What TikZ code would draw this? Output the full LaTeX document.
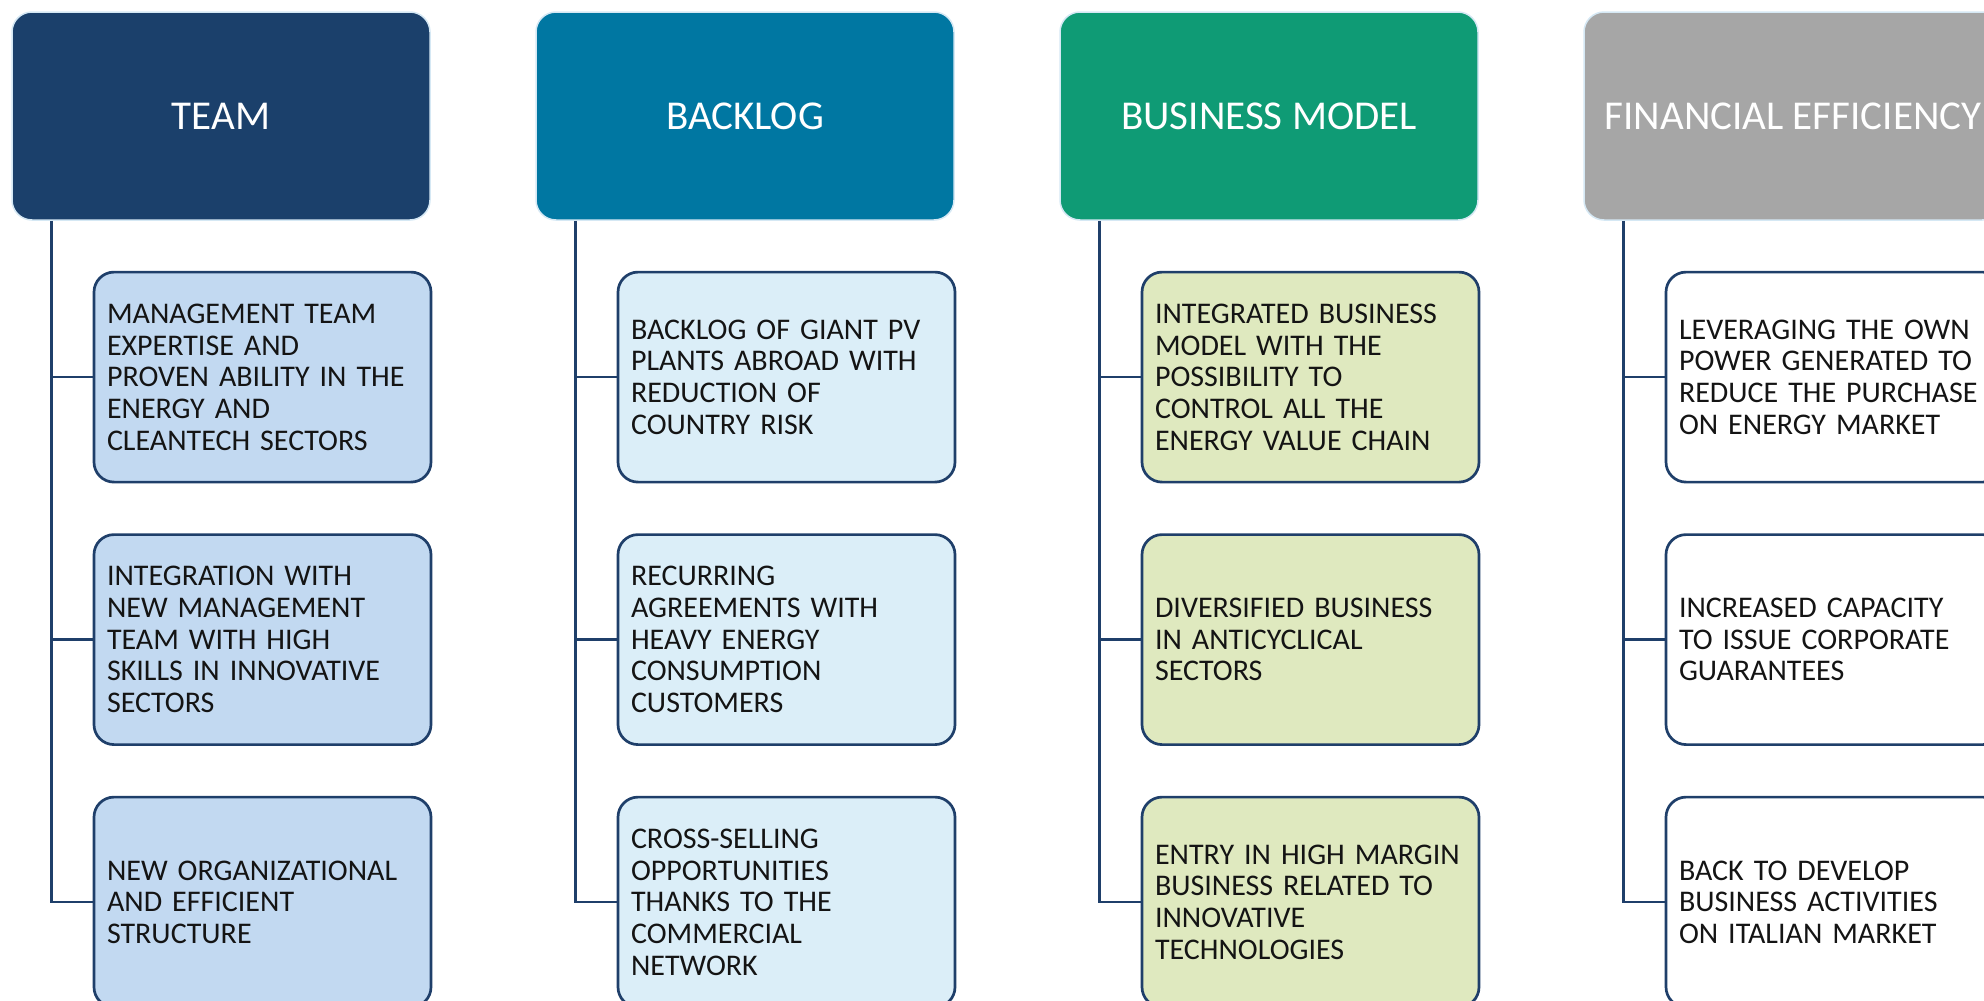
\documentclass[tikz,border=0pt]{standalone}
\usepackage{fontspec}
\setmainfont{Carlito}
\usepackage{tikz}
\usetikzlibrary{positioning}

\definecolor{teamblue}{HTML}{1B406B}
\definecolor{backlogblue}{HTML}{0077A2}
\definecolor{modelgreen}{HTML}{0F9B75}
\definecolor{financegrey}{HTML}{A6A6A6}
\definecolor{teamfill}{HTML}{C2D9F1}
\definecolor{backlogfill}{HTML}{DBEEF8}
\definecolor{modelfill}{HTML}{DFE9BF}
\definecolor{linkblue}{HTML}{1F3F6A}
\definecolor{headrim}{HTML}{D5E8F4}
\definecolor{inkblack}{HTML}{141414}

\tikzset{
  head/.style={draw=headrim, line width=1.5pt, rounded corners=20pt,
    minimum width=418pt, minimum height=208pt, text=white,
    font=\fontsize{41}{46}\selectfont},
  item/.style={draw=linkblue, line width=2.7pt, rounded corners=20pt,
    minimum width=337pt, minimum height=210pt, text width=311pt,
    inner xsep=13pt, align=left, text=inkblack,
    font=\fontsize{30}{31.7}\selectfont},
  link/.style={draw=linkblue, line width=2.7pt},
}

\begin{document}
\begin{tikzpicture}[x=1pt, y=-1pt, node distance=49.8pt]
    \useasboundingbox (0,0) rectangle (1984,1001);
    \clip (0,0) rectangle (1984,1001);

    % Column 1: team
    \node[head, fill=teamblue] (team) at (221,116) {TEAM};
    \node[item, fill=teamfill, below=50pt of team, xshift=41.5pt] (team1)
        {MANAGEMENT TEAM\\EXPERTISE AND\\PROVEN ABILITY IN THE\\ENERGY AND\\CLEANTECH SECTORS};
    \node[item, fill=teamfill, below=of team1] (team2)
        {INTEGRATION WITH\\NEW MANAGEMENT\\TEAM WITH HIGH\\SKILLS IN INNOVATIVE\\SECTORS};
    \node[item, fill=teamfill, below=of team2] (team3)
        {NEW ORGANIZATIONAL\\AND EFFICIENT\\STRUCTURE};
    \coordinate[left=41pt of team1.west] (teamx);
    \draw[link] (teamx |- team.south) |- (team3.west);
    \draw[link] (teamx |- team1.west) -- (team1.west);
    \draw[link] (teamx |- team2.west) -- (team2.west);

    % Column 2: backlog
    \node[head, fill=backlogblue] (backlog) at (745,116) {BACKLOG};
    \node[item, fill=backlogfill, below=50pt of backlog, xshift=41.5pt] (backlog1)
        {BACKLOG OF GIANT PV\\PLANTS ABROAD WITH\\REDUCTION OF\\COUNTRY RISK};
    \node[item, fill=backlogfill, below=of backlog1] (backlog2)
        {RECURRING\\AGREEMENTS WITH\\HEAVY ENERGY\\CONSUMPTION\\CUSTOMERS};
    \node[item, fill=backlogfill, below=of backlog2] (backlog3)
        {CROSS-SELLING\\OPPORTUNITIES\\THANKS TO THE\\COMMERCIAL\\NETWORK};
    \coordinate[left=41pt of backlog1.west] (backlogx);
    \draw[link] (backlogx |- backlog.south) |- (backlog3.west);
    \draw[link] (backlogx |- backlog1.west) -- (backlog1.west);
    \draw[link] (backlogx |- backlog2.west) -- (backlog2.west);

    % Column 3: business model
    \node[head, fill=modelgreen] (model) at (1269,116) {BUSINESS MODEL};
    \node[item, fill=modelfill, below=50pt of model, xshift=41.5pt] (model1)
        {INTEGRATED BUSINESS\\MODEL WITH THE\\POSSIBILITY TO\\CONTROL ALL THE\\ENERGY VALUE CHAIN};
    \node[item, fill=modelfill, below=of model1] (model2)
        {DIVERSIFIED BUSINESS\\IN ANTICYCLICAL\\SECTORS};
    \node[item, fill=modelfill, below=of model2] (model3)
        {ENTRY IN HIGH MARGIN\\BUSINESS RELATED TO\\INNOVATIVE\\TECHNOLOGIES};
    \coordinate[left=41pt of model1.west] (modelx);
    \draw[link] (modelx |- model.south) |- (model3.west);
    \draw[link] (modelx |- model1.west) -- (model1.west);
    \draw[link] (modelx |- model2.west) -- (model2.west);

    % Column 4: financial efficiency
    \node[head, fill=financegrey] (finance) at (1793,116) {FINANCIAL EFFICIENCY};
    \node[item, fill=white, below=50pt of finance, xshift=41.5pt] (finance1)
        {LEVERAGING THE OWN\\POWER GENERATED TO\\REDUCE THE PURCHASE\\ON ENERGY MARKET};
    \node[item, fill=white, below=of finance1] (finance2)
        {INCREASED CAPACITY\\TO ISSUE CORPORATE\\GUARANTEES};
    \node[item, fill=white, below=of finance2] (finance3)
        {BACK TO DEVELOP\\BUSINESS ACTIVITIES\\ON ITALIAN MARKET};
    \coordinate[left=41pt of finance1.west] (financex);
    \draw[link] (financex |- finance.south) |- (finance3.west);
    \draw[link] (financex |- finance1.west) -- (finance1.west);
    \draw[link] (financex |- finance2.west) -- (finance2.west);
\end{tikzpicture}
\end{document}
